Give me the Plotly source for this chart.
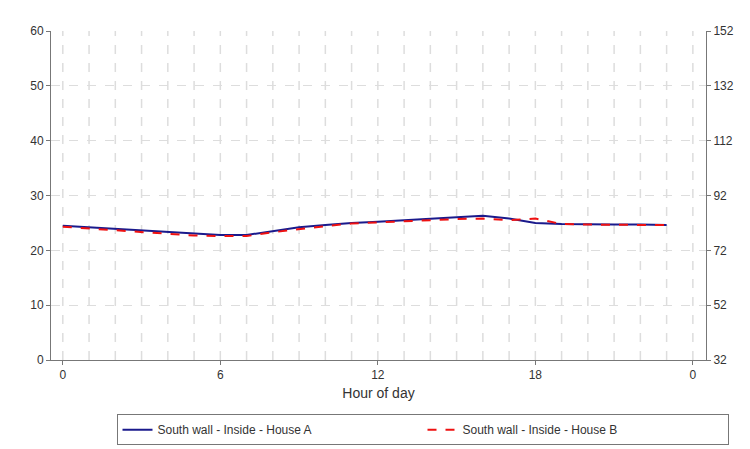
import plotly.graph_objects as go

hours = list(range(24))
house_a = [24.5, 24.2, 24.0, 23.7, 23.4, 23.0, 22.8, 22.8, 23.5, 24.2, 24.6, 25.0, 25.2, 25.5, 25.8, 26.0, 26.3, 25.8, 25.0, 24.8, 24.7, 24.7, 24.7, 24.6]
house_b = [24.3, 24.0, 23.6, 23.4, 23.1, 22.7, 22.6, 22.6, 23.3, 23.9, 24.4, 24.9, 25.1, 25.3, 25.6, 25.7, 25.8, 25.5, 25.8, 24.8, 24.7, 24.7, 24.7, 24.6]
x_ticks = [0, 6, 12, 18, 24]
x_labels = ["0", "6", "12", "18", "0"]
left_ticks = [0, 10, 20, 30, 40, 50, 60]
right_ticks = [32, 52, 72, 92, 112, 132, 152]

fig = go.Figure()
fig.add_trace(go.Scatter(x=hours, y=house_a, mode="lines", name="South wall - Inside - House A",
                         line=dict(color="#1a1a8c", width=2)))
fig.add_trace(go.Scatter(x=hours, y=house_b, mode="lines", name="South wall - Inside - House B",
                         line=dict(color="#ee1111", width=2, dash="dash")))
fig.add_trace(go.Scatter(x=[0], y=[32], yaxis="y2", mode="markers", showlegend=False,
                         hoverinfo="skip", marker=dict(opacity=0)))

fnt = dict(family="Liberation Sans Narrow, Liberation Sans, sans-serif", size=12, color="#333")
fig.update_layout(
    width=750, height=449, paper_bgcolor="white", plot_bgcolor="white",
    margin=dict(l=43, r=52, t=23, b=93), font=fnt,
    xaxis=dict(range=[-0.45, 24.5], tickvals=x_ticks, ticktext=x_labels, automargin=False,
               title=dict(text="Hour of day", standoff=6),
               showgrid=False, zeroline=False, showline=True, linecolor="#777",
               ticks="outside", ticklen=4, tickcolor="#777"),
    yaxis=dict(range=[0, 60], tickvals=left_ticks, showgrid=True, gridcolor="#ddd", griddash="dash",
               automargin=False,
               zeroline=False, showline=True, linecolor="#777", ticks="outside", ticklen=4, tickcolor="#777"),
    yaxis2=dict(range=[32, 152], tickvals=right_ticks, overlaying="y", side="right", showgrid=False,
                automargin=False,
                zeroline=False, showline=True, linecolor="#777", ticks="outside", ticklen=4, tickcolor="#777"),
    legend=dict(orientation="h", x=0.1, y=-0.165, xanchor="left", yanchor="top",
                bordercolor="#777", borderwidth=1, entrywidth=260, font=fnt),
    showlegend=True,
)
for h in range(25):
    fig.add_shape(type="line", x0=h, x1=h, y0=0, y1=60, xref="x", yref="y",
                  line=dict(color="#ddd", width=1.5, dash="dash"), layer="below")
fig.write_html("out.html")
